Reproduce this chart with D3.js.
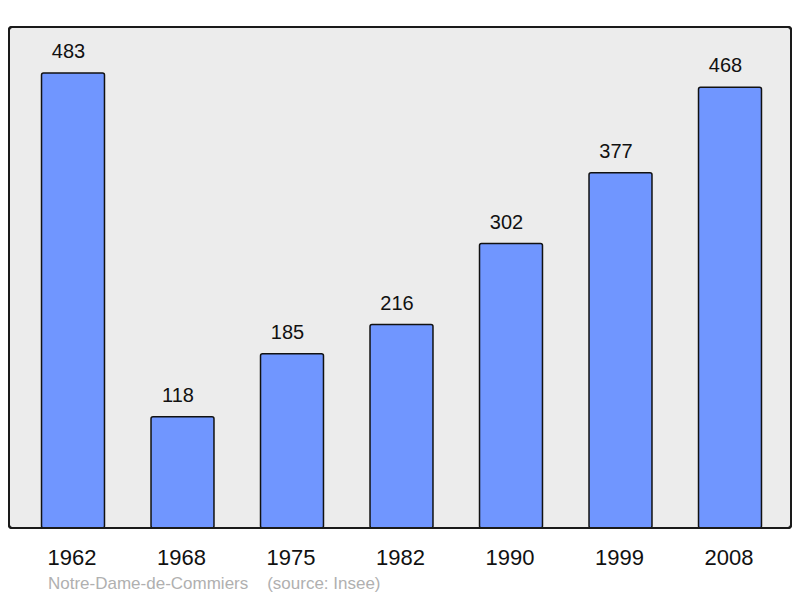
<!DOCTYPE html>
<html><head><meta charset="utf-8">
<script src="https://cdn.jsdelivr.net/npm/d3@7"></script>
<style>body{margin:0;background:#fff}svg{display:block}</style>
</head><body>
<svg id="c" width="800" height="598"></svg>
<script>
const years = ["1962","1968","1975","1982","1990","1999","2008"];
const population = [483,118,185,216,302,377,468];
const footer = "Notre-Dame-de-Commiers    (source: Insee)";

const svg = d3.select("#c");
const pTop = 27, pBottom = 528, pLeft = 9, pRight = 791;
svg.append("rect").attr("x",pLeft).attr("y",pTop).attr("width",pRight-pLeft).attr("height",pBottom-pTop)
  .attr("rx",3).attr("fill","#ececec").attr("stroke","#1a1a1a").attr("stroke-width",2);

const x = d3.scaleBand().domain(years).range([18.25,784.75]).paddingInner(0.425).paddingOuter(0.2125);
const y = d3.scaleLinear().domain([0,483]).range([pBottom,73]);

const g = svg.append("g");
g.selectAll("rect.bar").data(years).join("rect").attr("class","bar")
  .attr("x",d=>x(d)).attr("y",(d,i)=>y(population[i]))
  .attr("width",x.bandwidth()).attr("height",(d,i)=>pBottom-y(population[i]))
  .attr("rx",2).attr("fill","#7096ff").attr("stroke","#111").attr("stroke-width",1.5);

g.selectAll("text.val").data(years).join("text").attr("class","val")
  .attr("x",d=>x(d)+x.bandwidth()/2-4.5).attr("y",(d,i)=>y(population[i])-15)
  .attr("text-anchor","middle").attr("font-family","Liberation Sans, Arial, sans-serif")
  .attr("font-size",20).attr("fill","#111").text((d,i)=>population[i]);

svg.append("rect").attr("x",pLeft).attr("y",pTop).attr("width",pRight-pLeft).attr("height",pBottom-pTop)
  .attr("rx",3).attr("fill","none").attr("stroke","#1a1a1a").attr("stroke-width",2);

const ax = svg.append("g").attr("transform",`translate(0,${pBottom})`)
  .call(d3.axisBottom(x).tickSize(0).tickPadding(0));
ax.select(".domain").remove();
ax.selectAll("text").attr("x",-1).attr("y",37).attr("dy",0).attr("font-size",22)
  .attr("font-family","Liberation Sans, Arial, sans-serif").attr("fill","#111");

svg.append("text").attr("x",48).attr("y",589).attr("font-size",17)
  .attr("font-family","Liberation Sans, Arial, sans-serif").attr("fill","#b0b0b0")
  .attr("xml:space","preserve").style("white-space","pre").text(footer);
</script>
</body></html>
